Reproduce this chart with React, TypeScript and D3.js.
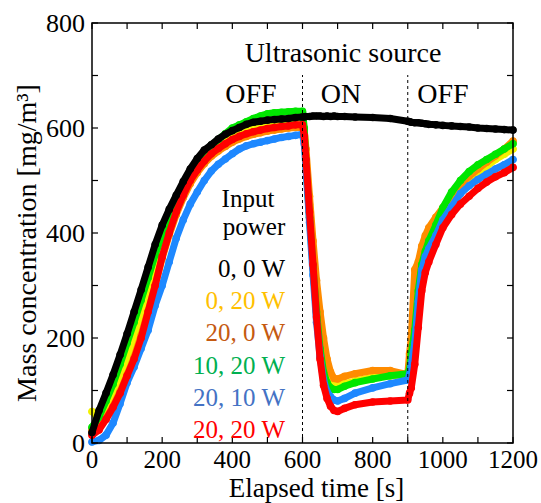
import React, { useEffect, useRef } from 'react';
import * as d3 from 'd3';

// elapsed time [s] at which every series was read
const times = [
  0, 20, 40, 60, 80, 100, 120, 140, 160, 180, 200, 220, 240, 260, 280, 300, 320, 340, 360, 380,
  400, 420, 440, 460, 480, 500, 520, 540, 560, 580, 600,
  605, 610, 620, 630, 640, 650, 660, 670, 680, 690, 700,
  720, 750, 800, 850, 900,
  905, 910, 920, 930, 940, 950, 960, 980,
  1000, 1025, 1050, 1075, 1100, 1125, 1150, 1175, 1200,
];

// mass concentration [mg/m3] per input power
const p0_0 = [
  20, 62, 95, 130, 168, 208, 250, 292, 335, 378, 415, 445, 472, 498, 522, 542, 558, 568, 579, 588,
  595, 601, 607, 611, 613, 615, 616, 617, 618, 620, 621,
  621, 622, 622, 623, 623, 623, 622, 623, 622, 623, 622,
  622, 621, 620, 618, 613,
  612, 611, 610, 610, 609, 608, 607, 606,
  605, 604, 603, 602, 600, 599, 598, 597, 596,
];
const p0_20 = [
  60, 45, 65, 90, 120, 155, 195, 240, 285, 330, 375, 415, 450, 480, 505, 527, 545, 558, 568, 577,
  584, 590, 595, 599, 602, 604, 606, 607, 608, 609, 609,
  595, 545, 455, 365, 285, 215, 165, 132, 117, 110, 110,
  113, 118, 125, 128, 128,
  150, 180, 300, 330, 350, 370, 385, 410,
  435, 460, 482, 500, 515, 527, 540, 550, 560,
];
const p20_0 = [
  25, 28, 48, 70, 98, 130, 163, 205, 252, 300, 352, 396, 435, 467, 494, 515, 532, 546, 556, 565,
  573, 579, 584, 588, 591, 594, 596, 598, 600, 601, 601,
  595, 560, 470, 385, 310, 250, 200, 160, 135, 123, 122,
  127, 132, 138, 138, 130,
  170, 200, 330, 345, 375, 395, 410, 430,
  448, 472, 492, 508, 522, 535, 547, 560, 575,
];
const p10_20 = [
  30, 50, 80, 112, 150, 190, 230, 272, 315, 358, 395, 428, 458, 487, 512, 535, 553, 567, 578, 589,
  600, 606, 612, 618, 623, 627, 629, 630, 631, 632, 632,
  600, 530, 430, 335, 250, 180, 135, 115, 105, 102, 102,
  108, 115, 122, 128, 132,
  140, 170, 215, 290, 340, 365, 385, 415,
  448, 478, 500, 517, 530, 540, 550, 560, 570,
];
const p20_10 = [
  2, 5, 15, 38, 75, 115, 145, 180, 215, 262, 300, 345, 390, 425, 455, 478, 500, 518, 531, 541,
  551, 560, 566, 570, 573, 576, 579, 582, 584, 586, 588,
  570, 520, 420, 320, 230, 165, 120, 98, 88, 82, 80,
  85, 95, 105, 113, 120,
  130, 150, 190, 270, 330, 355, 370, 395,
  425, 450, 475, 490, 502, 512, 522, 530, 540,
];
const p20_20 = [
  15, 25, 45, 68, 95, 128, 160, 200, 250, 300, 355, 400, 440, 472, 500, 520, 537, 551, 561, 570,
  578, 584, 589, 593, 596, 599, 601, 603, 604, 606, 606,
  585, 540, 440, 340, 240, 160, 110, 85, 70, 62, 60,
  66, 73, 78, 80, 82,
  95, 105, 150, 220, 290, 325, 345, 378,
  410, 435, 455, 470, 485, 497, 507, 515, 525,
];

const legendLabels = ['0, 0 W', '0, 20 W', '20, 0 W', '10, 20 W', '20, 10 W', '20, 20 W'];
const legendColors = ['#000000', '#FFC000', '#C55A11', '#00B050', '#4472C4', '#FF0000'];

// drawing order: black goes on top
const series = [
  { values: p0_20, color: '#F2F200' },
  { values: p20_0, color: '#FF8C00' },
  { values: p10_20, color: '#00E600' },
  { values: p20_10, color: '#1E88FF' },
  { values: p20_20, color: '#FF0000' },
  { values: p0_0, color: '#000000' },
];

const xTicks = d3.range(0, 1201, 100);
const yTicks = d3.range(0, 801, 100);
const switchTimes = [600, 900];

const W = 541;
const H = 503;
const margin = { left: 92, right: 28, top: 23, bottom: 60 };
const FF = 'Liberation Serif';

export default function App() {
  const ref = useRef<SVGSVGElement>(null);

  useEffect(() => {
    document.body.style.margin = '0';
    // set the serif face once more on every text, after mount
    d3.select(ref.current).selectAll('text').attr('font-family', FF).style('font-family', FF);
  }, []);

  const x = d3.scaleLinear().domain([0, 1200]).range([margin.left, W - margin.right]);
  const y = d3.scaleLinear().domain([0, 800]).range([H - margin.bottom, margin.top]);
  const line = d3
    .line<number>()
    .x((_, i) => x(times[i]))
    .y((d) => y(d));

  const x0 = x(0), x1 = x(1200), y0 = y(0), y1 = y(800);
  const tl = 6;

  return (
    <svg ref={ref} width={W} height={H} style={{ position: 'absolute', left: 0, top: 0, display: 'block' }}>
      {/* data */}
      {series.map((s, k) => (
        <g key={k}>
          <path d={line(s.values) || ''} fill="none" stroke={s.color} strokeWidth={7}
            strokeLinejoin="round" strokeLinecap="round" />
          {s.values.map((v, i) => (
            <circle key={i} cx={x(times[i])} cy={y(v)} r={3.8} fill={s.color} />
          ))}
        </g>
      ))}

      {/* switch lines */}
      {switchTimes.map((t) => (
        <line key={t} x1={x(t)} x2={x(t)} y1={y0} y2={75} stroke="black"
          strokeWidth={1} strokeDasharray="3,3" />
      ))}

      {/* frame and ticks */}
      <rect x={x0} y={y1} width={x1 - x0} height={y0 - y1} fill="none" stroke="black" strokeWidth={1.5} />
      {xTicks.map((t) => (
        <g key={'x' + t}>
          <line x1={x(t)} x2={x(t)} y1={y0} y2={y0 - tl} stroke="black" strokeWidth={1.2} />
          <line x1={x(t)} x2={x(t)} y1={y1} y2={y1 + tl} stroke="black" strokeWidth={1.2} />
          {t % 200 === 0 && (
            <text x={x(t)} y={y0 + 25} textAnchor="middle" fontSize={25} fontFamily={FF}>{t}</text>
          )}
        </g>
      ))}
      {yTicks.map((t) => (
        <g key={'y' + t}>
          <line x1={x0} x2={x0 + tl} y1={y(t)} y2={y(t)} stroke="black" strokeWidth={1.2} />
          <line x1={x1} x2={x1 - tl} y1={y(t)} y2={y(t)} stroke="black" strokeWidth={1.2} />
          {t % 200 === 0 && (
            <text x={x0 - 7} y={y(t) + 9} textAnchor="end" fontSize={26} fontFamily={FF}>{t}</text>
          )}
        </g>
      ))}

      {/* axis titles */}
      <text x={(x0 + x1) / 2 + 14} y={497} textAnchor="middle" fontSize={27} fontFamily={FF}>
        Elapsed time [s]
      </text>
      <text transform={`translate(36,${(y0 + y1) / 2 + 10}) rotate(-90)`} textAnchor="middle" fontSize={28}
        fontFamily={FF}>
        Mass concentration [mg/m³]
      </text>

      {/* annotations */}
      <text x={343} y={62} textAnchor="middle" fontSize={28} fontFamily={FF}>Ultrasonic source</text>
      <text x={251} y={103} textAnchor="middle" fontSize={28} fontFamily={FF}>OFF</text>
      <text x={341} y={103} textAnchor="middle" fontSize={28} fontFamily={FF}>ON</text>
      <text x={443} y={103} textAnchor="middle" fontSize={28} fontFamily={FF}>OFF</text>

      {/* legend */}
      <text x={248} y={207} textAnchor="middle" fontSize={25} fontFamily={FF}>Input</text>
      <text x={254} y={235} textAnchor="middle" fontSize={25} fontFamily={FF}>power</text>
      {legendLabels.map((l, i) => (
        <text key={l} x={285} y={277 + i * 32.2} textAnchor="end" fontSize={25} fontFamily={FF}
          fill={legendColors[i]}>{l}</text>
      ))}
    </svg>
  );
}
